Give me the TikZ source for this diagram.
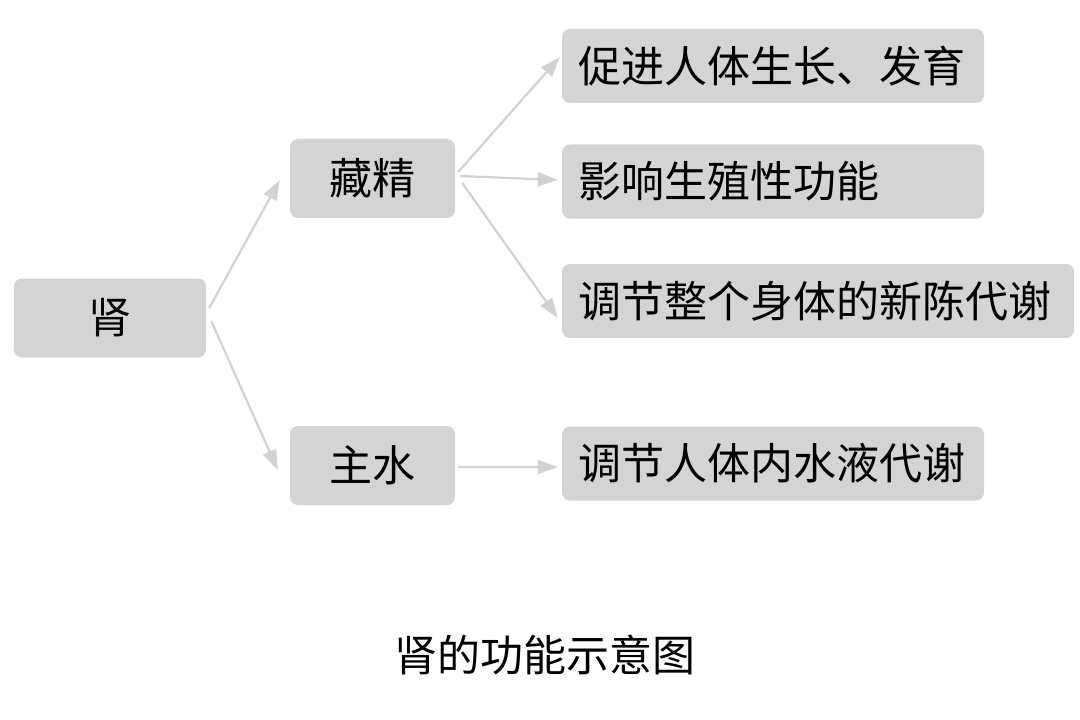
\documentclass[tikz,border=0pt]{standalone}
\usepackage{fontspec}
\setmainfont{Noto Sans CJK SC}
\usetikzlibrary{arrows.meta}
\definecolor{boxgray}{HTML}{D4D4D4}
\definecolor{arrgray}{HTML}{D2D2D2}
\begin{document}
\begin{tikzpicture}[x=1bp,y=-1bp,
  box/.style={fill=boxgray, rounded corners=8bp, inner ysep=0pt, minimum height=79bp, font=\fontsize{43bp}{48bp}\selectfont, align=center},
  leaf/.style={fill=boxgray, rounded corners=8bp, inner ysep=0pt, inner xsep=16bp, minimum height=74bp, font=\fontsize{43bp}{48bp}\selectfont, align=left},
  arr/.style={draw=arrgray, line width=2.2bp, -{Triangle[length=20bp,width=14bp]}}]
\useasboundingbox[fill=white] (0,0) rectangle (1080,720);
\node[box, minimum width=192bp] (shen) at (110,318) {肾};
\node[box, minimum width=165bp] (cang) at (372.5,178.5) {藏精};
\node[box, minimum width=165bp] (zhu) at (372.5,465.5) {主水};
\node[leaf, text width=390bp] (a) at (773,66) {促进人体生长、发育};
\node[leaf, text width=390bp] (b) at (773,181.5) {影响生殖性功能};
\node[leaf, text width=480bp] (c) at (818,301) {调节整个身体的新陈代谢};
\node[leaf, text width=390bp] (d) at (773,463.5) {调节人体内水液代谢};
\node[font=\fontsize{43bp}{48bp}\selectfont] (cap) at (545,655) {肾的功能示意图};
\draw[arr] ([xshift=3bp,yshift=10bp]shen.east) -- ([xshift=-10bp,yshift=-1.5bp]cang.west);
\draw[arr] ([xshift=5bp,yshift=-3bp]shen.east) -- ([xshift=-12bp,yshift=-4.5bp]zhu.west);
\draw[arr] ([xshift=3bp,yshift=6.5bp]cang.east) -- ([xshift=-2bp,yshift=9bp]a.west);
\draw[arr] ([xshift=5bp,yshift=2.5bp]cang.east) -- ([xshift=-4bp,yshift=1.5bp]b.west);
\draw[arr] ([xshift=7bp,yshift=-4.5bp]cang.east) -- ([xshift=-4bp,yshift=-17bp]c.west);
\draw[arr] ([xshift=3bp,yshift=-1.5bp]zhu.east) -- ([xshift=-4bp,yshift=-3.5bp]d.west);
\end{tikzpicture}
\end{document}
